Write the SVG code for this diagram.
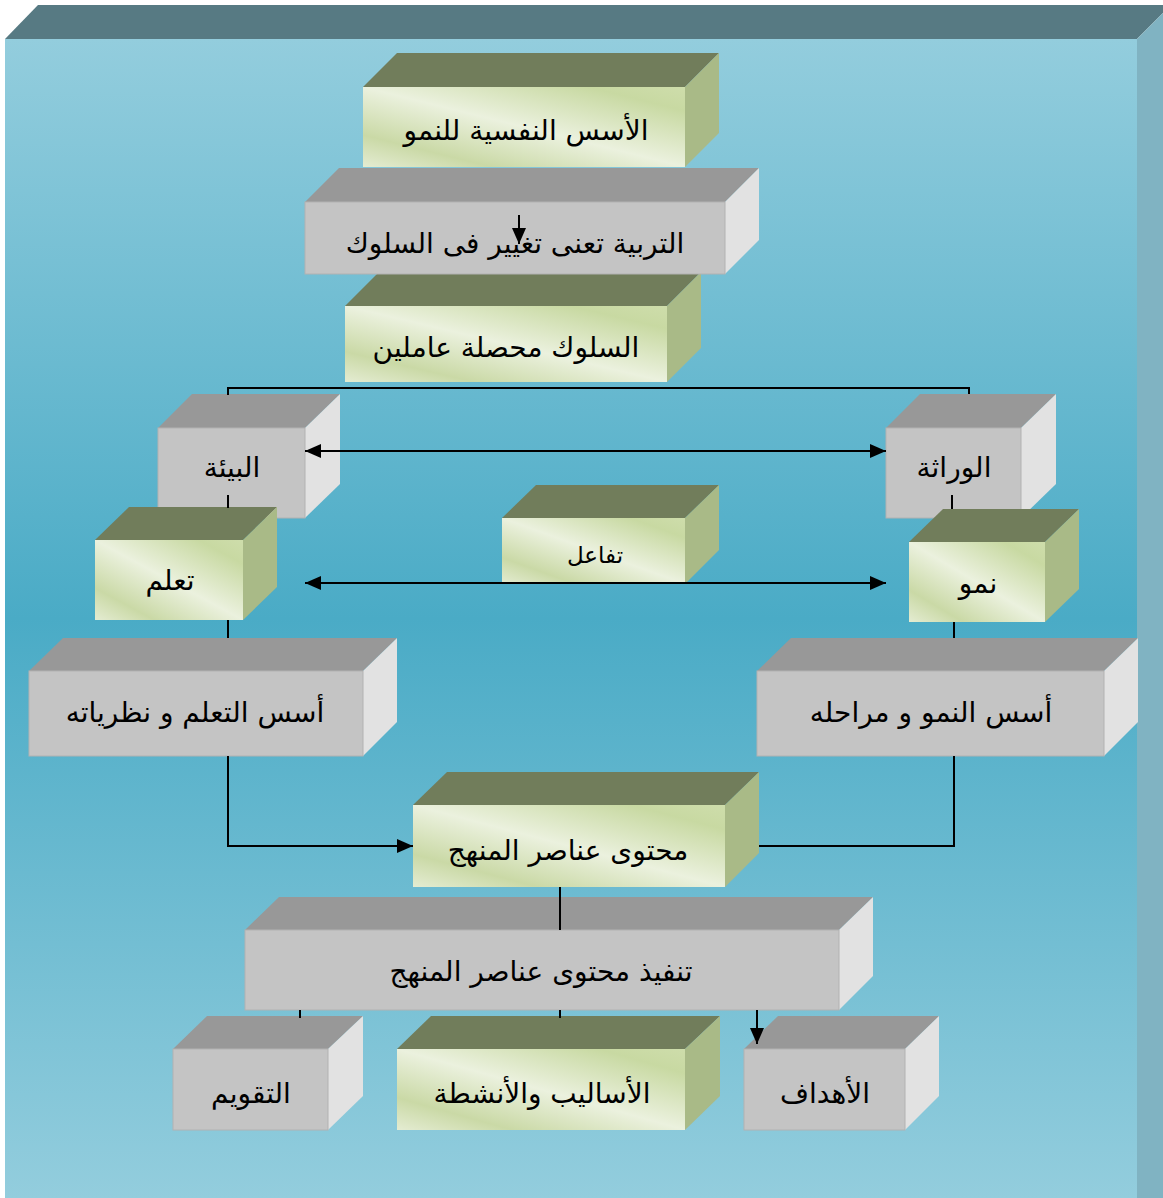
<svg xmlns="http://www.w3.org/2000/svg" width="1163" height="1198" viewBox="0 0 1163 1198">
  <defs>
    <linearGradient id="bgFront" x1="0" y1="0" x2="0" y2="1">
      <stop offset="0" stop-color="#93CDDD"/>
      <stop offset="0.5" stop-color="#4AABC6"/>
      <stop offset="1" stop-color="#93CDDD"/>
    </linearGradient>
    <linearGradient id="greenFront" x1="0" y1="1" x2="1" y2="0">
      <stop offset="0" stop-color="#E4ECD2"/>
      <stop offset="0.2" stop-color="#CAD9A6"/>
      <stop offset="0.5" stop-color="#EBF1DE"/>
      <stop offset="0.85" stop-color="#C8D9A2"/>
      <stop offset="1" stop-color="#CEDDAB"/>
    </linearGradient>
    <marker id="arr" viewBox="0 0 16 14" refX="16" refY="7" markerWidth="16" markerHeight="14" markerUnits="userSpaceOnUse" orient="auto-start-reverse">
      <path d="M0,0 L16,7 L0,14 Z" fill="#000"/>
    </marker>
  </defs>
  <style>
    .gf { fill: url(#greenFront); }
    .gt { fill: #717D5B; }
    .gr { fill: #A9BA87; }
    .sf { fill: #C4C4C4; stroke: #B2B2B2; stroke-width: 1; }
    .st { fill: #989898; }
    .sr { fill: #E2E2E2; }
    .lbl { font-family: "DejaVu Sans", "Noto Sans", sans-serif; font-size: 28px; fill: #000; text-anchor: middle; }
    .sm { font-size: 23px; }
    .conn { fill: none; stroke: #000; stroke-width: 2; }
  </style>

  <g id="background">
    <rect x="0" y="0" width="1163" height="1198" fill="#FFFFFF"/>
    <polygon points="5,39 38,5 1171,5 1137,39" fill="#577A83"/>
    <polygon points="1137,39 1171,5 1171,1198 1137,1198" fill="#80B3C2"/>
    <rect x="5" y="39" width="1132" height="1159" fill="url(#bgFront)"/>
  </g>

  <g id="n1">
    <polygon class="gt" points="363,87 397,53 719,53 685,87"/>
    <polygon class="gr" points="685,87 719,53 719,133 685,167"/>
    <rect class="gf" x="363" y="87" width="322" height="80"/>
    <text class="lbl" x="526" y="140">الأسس النفسية للنمو</text>
  </g>

  <g id="n3">
    <polygon class="gt" points="345,306 379,272 701,272 667,306"/>
    <polygon class="gr" points="667,306 701,272 701,348 667,382"/>
    <rect class="gf" x="345" y="306" width="322" height="76"/>
    <text class="lbl" x="506" y="357">السلوك محصلة عاملين</text>
  </g>

  <g id="n2">
    <polygon class="st" points="305,202 339,168 759,168 725,202"/>
    <polygon class="sr" points="725,202 759,168 759,240 725,274"/>
    <rect class="sf" x="305" y="202" width="420" height="72"/>
    <text class="lbl" x="515" y="253">التربية تعنى تغيير فى السلوك</text>
  </g>

  <g id="n4">
    <polygon class="st" points="158,428 192,394 340,394 305,428"/>
    <polygon class="sr" points="305,428 340,394 340,484 305,518"/>
    <rect class="sf" x="158" y="428" width="147" height="90"/>
    <text class="lbl" x="232" y="477">البيئة</text>
  </g>

  <g id="n5">
    <polygon class="st" points="886,428 920,394 1056,394 1021,428"/>
    <polygon class="sr" points="1021,428 1056,394 1056,484 1021,518"/>
    <rect class="sf" x="886" y="428" width="135" height="90"/>
    <text class="lbl" x="954" y="477">الوراثة</text>
  </g>

  <g id="n6">
    <polygon class="gt" points="95,540 129,507 277,507 243,540"/>
    <polygon class="gr" points="243,540 277,507 277,587 243,620"/>
    <rect class="gf" x="95" y="540" width="148" height="80"/>
    <text class="lbl" x="170" y="590">تعلم</text>
  </g>

  <g id="n7">
    <polygon class="gt" points="502,518 536,485 719,485 685,518"/>
    <polygon class="gr" points="685,518 719,485 719,550 685,584"/>
    <rect class="gf" x="502" y="518" width="183" height="66"/>
    <text class="lbl sm" x="595" y="563">تفاعل</text>
  </g>

  <g id="n8">
    <polygon class="gt" points="909,542 943,509 1079,509 1045,542"/>
    <polygon class="gr" points="1045,542 1079,509 1079,589 1045,622"/>
    <rect class="gf" x="909" y="542" width="136" height="80"/>
    <text class="lbl" x="978" y="593">نمو</text>
  </g>

  <g id="n9">
    <polygon class="st" points="29,671 63,638 397,638 363,671"/>
    <polygon class="sr" points="363,671 397,638 397,722 363,756"/>
    <rect class="sf" x="29" y="671" width="334" height="85"/>
    <text class="lbl" x="195" y="722">أسس التعلم و نظرياته</text>
  </g>

  <g id="n10">
    <polygon class="st" points="757,671 791,638 1138,638 1104,671"/>
    <polygon class="sr" points="1104,671 1138,638 1138,722 1104,756"/>
    <rect class="sf" x="757" y="671" width="347" height="85"/>
    <text class="lbl" x="931" y="722">أسس النمو و مراحله</text>
  </g>

  <g id="n11">
    <polygon class="gt" points="413,805 447,772 759,772 725,805"/>
    <polygon class="gr" points="725,805 759,772 759,853 725,887"/>
    <rect class="gf" x="413" y="805" width="312" height="82"/>
    <text class="lbl" x="568" y="860">محتوى عناصر المنهج</text>
  </g>

  <g id="n12">
    <polygon class="st" points="245,930 279,897 873,897 839,930"/>
    <polygon class="sr" points="839,930 873,897 873,976 839,1010"/>
    <rect class="sf" x="245" y="930" width="594" height="80"/>
    <text class="lbl" x="541" y="981">تنفيذ محتوى عناصر المنهج</text>
  </g>

  <g id="n13">
    <polygon class="st" points="173,1049 207,1016 363,1016 328,1049"/>
    <polygon class="sr" points="328,1049 363,1016 363,1096 328,1130"/>
    <rect class="sf" x="173" y="1049" width="155" height="81"/>
    <text class="lbl" x="251" y="1103">التقويم</text>
  </g>

  <g id="n14">
    <polygon class="gt" points="397,1049 431,1016 720,1016 685,1049"/>
    <polygon class="gr" points="685,1049 720,1016 720,1096 685,1130"/>
    <rect class="gf" x="397" y="1049" width="288" height="81"/>
    <text class="lbl" x="542" y="1103">الأساليب والأنشطة</text>
  </g>

  <g id="n15">
    <polygon class="st" points="744,1049 778,1016 939,1016 905,1049"/>
    <polygon class="sr" points="905,1049 939,1016 939,1096 905,1130"/>
    <rect class="sf" x="744" y="1049" width="161" height="81"/>
    <text class="lbl" x="825" y="1103">الأهداف</text>
  </g>

  <g id="connectors">
    <path class="conn" d="M519,215 V244" marker-end="url(#arr)"/>
    <path class="conn" d="M228,395 V388 H969 V394"/>
    <path class="conn" d="M228,495 V508"/>
    <path class="conn" d="M952,495 V509"/>
    <path class="conn" d="M305,451 H886" marker-start="url(#arr)" marker-end="url(#arr)"/>
    <path class="conn" d="M305,583 H886" marker-start="url(#arr)" marker-end="url(#arr)"/>
    <path class="conn" d="M228,620 V638"/>
    <path class="conn" d="M954,622 V638"/>
    <path class="conn" d="M228,756 V846 H413" marker-end="url(#arr)"/>
    <path class="conn" d="M954,756 V846 H759"/>
    <path class="conn" d="M560,887 V930"/>
    <path class="conn" d="M300,1010 V1018"/>
    <path class="conn" d="M560,1010 V1018"/>
    <path class="conn" d="M757,1010 V1044" marker-end="url(#arr)"/>
  </g>
</svg>
